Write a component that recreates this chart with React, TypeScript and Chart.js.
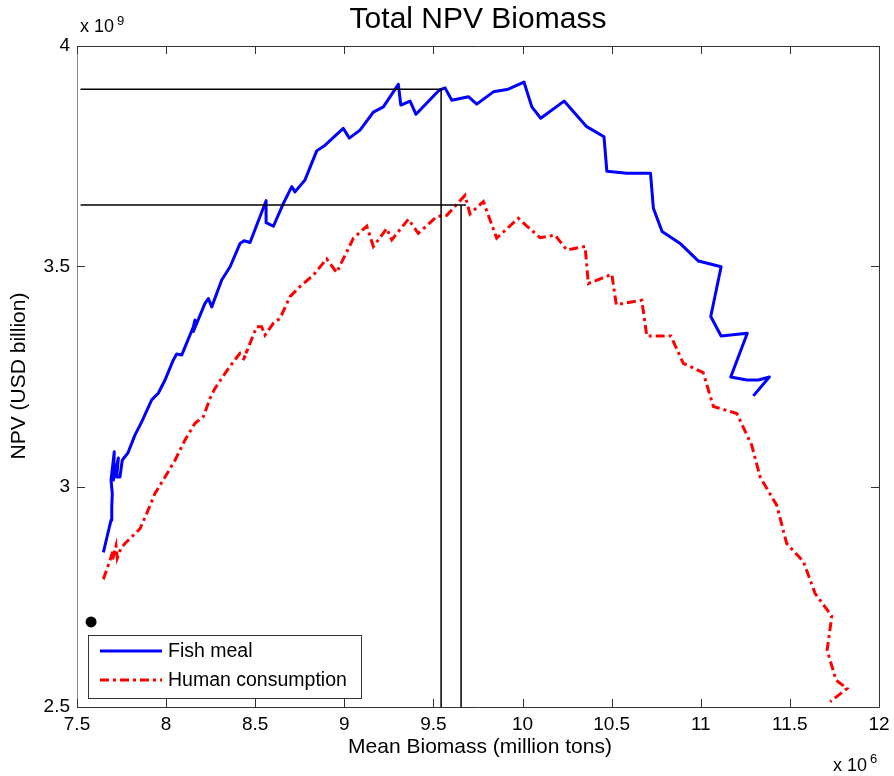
import React, { useEffect, useRef } from 'react';
import { Chart, registerables } from 'chart.js';

Chart.register(...registerables);

// Axis ticks
const xTicks = [7.5, 8, 8.5, 9, 9.5, 10, 10.5, 11, 11.5, 12];
const yTicks = [2.5, 3, 3.5, 4];

// Fish meal (x: million tons, y: USD billion)
const fishX = [7.648, 7.672, 7.691, 7.695, 7.698, 7.691, 7.709, 7.704, 7.732, 7.723, 7.741, 7.754, 7.769, 7.785, 7.825, 7.863, 7.919, 7.956, 7.994, 8.040, 8.059, 8.088, 8.153, 8.162, 8.153, 8.218, 8.237, 8.256, 8.312, 8.359, 8.415, 8.437, 8.471, 8.561, 8.561, 8.602, 8.658, 8.705, 8.723, 8.779, 8.798, 8.845, 8.892, 8.994, 9.028, 9.088, 9.163, 9.219, 9.303, 9.317, 9.369, 9.402, 9.471, 9.533, 9.565, 9.603, 9.696, 9.743, 9.836, 9.920, 10.008, 10.052, 10.102, 10.233, 10.360, 10.457, 10.473, 10.585, 10.718, 10.734, 10.783, 10.884, 10.987, 11.114, 11.056, 11.114, 11.261, 11.168, 11.258, 11.323, 11.385, 11.295];
const fishY = [2.851, 2.892, 2.924, 2.954, 2.985, 3.015, 3.079, 3.015, 3.065, 3.022, 3.022, 3.060, 3.068, 3.076, 3.117, 3.147, 3.197, 3.212, 3.242, 3.287, 3.301, 3.299, 3.363, 3.378, 3.352, 3.416, 3.427, 3.408, 3.469, 3.499, 3.552, 3.558, 3.554, 3.649, 3.599, 3.591, 3.643, 3.681, 3.669, 3.696, 3.715, 3.762, 3.775, 3.813, 3.791, 3.809, 3.850, 3.862, 3.913, 3.866, 3.875, 3.845, 3.874, 3.900, 3.905, 3.877, 3.885, 3.868, 3.896, 3.902, 3.918, 3.862, 3.836, 3.875, 3.817, 3.794, 3.716, 3.711, 3.711, 3.632, 3.579, 3.552, 3.512, 3.499, 3.386, 3.342, 3.348, 3.249, 3.242, 3.242, 3.249, 3.206];

// Human consumption
const humanX = [7.648, 7.685, 7.704, 7.700, 7.719, 7.726, 7.747, 7.769, 7.807, 7.854, 7.891, 7.938, 7.994, 8.050, 8.106, 8.162, 8.209, 8.246, 8.274, 8.349, 8.415, 8.452, 8.433, 8.508, 8.536, 8.555, 8.602, 8.639, 8.695, 8.751, 8.826, 8.901, 8.957, 9.051, 9.126, 9.163, 9.238, 9.266, 9.359, 9.415, 9.519, 9.575, 9.677, 9.705, 9.780, 9.855, 9.976, 10.098, 10.182, 10.248, 10.351, 10.369, 10.501, 10.526, 10.669, 10.697, 10.832, 10.902, 11.013, 11.071, 11.202, 11.286, 11.333, 11.426, 11.482, 11.576, 11.641, 11.735, 11.709, 11.759, 11.821, 11.726];
const humanY = [2.790, 2.833, 2.856, 2.835, 2.866, 2.838, 2.861, 2.871, 2.886, 2.905, 2.939, 2.985, 3.022, 3.060, 3.106, 3.144, 3.159, 3.200, 3.223, 3.268, 3.303, 3.306, 3.287, 3.363, 3.363, 3.344, 3.371, 3.382, 3.431, 3.454, 3.480, 3.517, 3.486, 3.564, 3.591, 3.545, 3.586, 3.560, 3.607, 3.575, 3.613, 3.616, 3.661, 3.619, 3.647, 3.564, 3.609, 3.565, 3.571, 3.537, 3.545, 3.461, 3.482, 3.413, 3.423, 3.342, 3.342, 3.280, 3.259, 3.182, 3.166, 3.094, 3.022, 2.958, 2.871, 2.830, 2.758, 2.706, 2.629, 2.561, 2.542, 2.512];

// Reference (optimum) lines
const refUpperX = [7.52, 9.543, 9.543];
const refUpperY = [3.902, 3.902, 2.5];
const refLowerHX = [7.52, 9.683];
const refLowerHY = [3.639, 3.639];
const refLowerVX = [9.655, 9.655];
const refLowerVY = [3.639, 2.5];

// Marker
const dotX = [7.579];
const dotY = [2.693];

const legendLabels = ['Fish meal', 'Human consumption'];

const FONT = "'Liberation Sans', Arial, sans-serif";
const zip = (xs: number[], ys: number[]) => xs.map((x, i) => ({ x, y: ys[i] }));
const fmt = (v: any) => String(Math.round(Number(v) * 10) / 10);

const decor = {
  id: 'decor',
  afterDraw(chart: any) {
    const { ctx, chartArea: a, scales } = chart;
    const x = scales.x;
    const y = scales.y;
    ctx.save();
    // box
    ctx.lineWidth = 1;
    ctx.strokeStyle = '#333';
    ctx.beginPath();
    ctx.moveTo(a.left, a.top + 0.5);
    ctx.lineTo(a.right + 0.5, a.top + 0.5);
    ctx.lineTo(a.right + 0.5, a.bottom + 0.5);
    ctx.lineTo(a.left, a.bottom + 0.5);
    ctx.stroke();
    ctx.strokeStyle = '#888';
    ctx.beginPath();
    ctx.moveTo(a.left + 0.5, a.top);
    ctx.lineTo(a.left + 0.5, a.bottom + 1);
    ctx.stroke();
    // inward ticks
    ctx.strokeStyle = '#333';
    ctx.beginPath();
    const tl = 8;
    xTicks.forEach((v) => {
      const px = Math.round(x.getPixelForValue(v)) + 0.5;
      ctx.moveTo(px, a.bottom);
      ctx.lineTo(px, a.bottom - tl);
      ctx.moveTo(px, a.top);
      ctx.lineTo(px, a.top + tl);
    });
    yTicks.forEach((v) => {
      const py = Math.round(y.getPixelForValue(v)) + 0.5;
      ctx.moveTo(a.left, py);
      ctx.lineTo(a.left + tl, py);
      ctx.moveTo(a.right, py);
      ctx.lineTo(a.right - tl, py);
    });
    ctx.stroke();

    // legend
    const lx = 88, ly = 635, lw = 273, lh = 63;
    ctx.fillStyle = '#fff';
    ctx.fillRect(lx, ly, lw, lh);
    ctx.strokeStyle = '#333';
    ctx.lineWidth = 1;
    ctx.strokeRect(lx + 0.5, ly + 0.5, lw, lh);
    ctx.lineWidth = 3;
    ctx.strokeStyle = '#0000ff';
    ctx.beginPath();
    ctx.moveTo(100, 651);
    ctx.lineTo(162, 651);
    ctx.stroke();
    ctx.strokeStyle = '#ff0000';
    ctx.setLineDash([9, 4, 3, 4]);
    ctx.beginPath();
    ctx.moveTo(100, 680);
    ctx.lineTo(162, 680);
    ctx.stroke();
    ctx.setLineDash([]);
    ctx.fillStyle = '#000';
    ctx.font = `19.5px ${FONT}`;
    ctx.textBaseline = 'middle';
    ctx.textAlign = 'left';
    ctx.fillText(legendLabels[0], 168, 652);
    ctx.fillText(legendLabels[1], 168, 681);

    // title
    ctx.font = `30px ${FONT}`;
    ctx.textAlign = 'center';
    ctx.fillText('Total NPV Biomass', 478, 20);
    // axis titles
    ctx.font = `21px ${FONT}`;
    ctx.fillText('Mean Biomass (million tons)', 480, 747);
    ctx.save();
    ctx.translate(19, 376);
    ctx.rotate(-Math.PI / 2);
    ctx.fillText('NPV (USD billion)', 0, 0);
    ctx.restore();
    // exponents
    ctx.textAlign = 'left';
    ctx.font = `18px ${FONT}`;
    ctx.fillText('x 10', 80, 27);
    ctx.font = `13px ${FONT}`;
    ctx.fillText('9', 117, 21);
    ctx.font = `18px ${FONT}`;
    ctx.fillText('x 10', 833, 766);
    ctx.font = `13px ${FONT}`;
    ctx.fillText('6', 870, 759);
    ctx.restore();
  },
};

export default function App() {
  const ref = useRef<HTMLCanvasElement | null>(null);
  useEffect(() => {
    if (!ref.current) return;
    const chart = new Chart(ref.current, {
      type: 'scatter',
      data: {
        datasets: [
          { label: 'ref1', data: zip(refUpperX, refUpperY), showLine: true, borderColor: '#000', borderWidth: 1.5, pointRadius: 0 },
          { label: 'ref2', data: zip(refLowerHX, refLowerHY), showLine: true, borderColor: '#000', borderWidth: 1.5, pointRadius: 0 },
          { label: 'ref3', data: zip(refLowerVX, refLowerVY), showLine: true, borderColor: '#000', borderWidth: 1.5, pointRadius: 0 },
          { label: legendLabels[0], data: zip(fishX, fishY), showLine: true, borderColor: '#0000ff', borderWidth: 3, pointRadius: 0, borderJoinStyle: 'round' },
          { label: legendLabels[1], data: zip(humanX, humanY), showLine: true, borderColor: '#ff0000', borderWidth: 3, pointRadius: 0, borderDash: [9, 4, 3, 4] },
          { label: 'dot', data: zip(dotX, dotY), showLine: false, pointRadius: 5.5, backgroundColor: '#000', borderColor: '#000', pointBorderWidth: 0 },
        ],
      },
      options: {
        responsive: false,
        animation: false,
        events: [],
        layout: { padding: { top: 46, right: 15, left: 0, bottom: 0 } },
        plugins: { legend: { display: false }, title: { display: false }, tooltip: { enabled: false } },
        scales: {
          x: {
            type: 'linear',
            min: 7.5,
            max: 12,
            afterBuildTicks: (s: any) => { s.ticks = xTicks.map((v) => ({ value: v })); },
            afterFit: (s: any) => { s.height = 69; s.paddingRight = 0; },
            grid: { display: false, drawTicks: false },
            border: { display: false },
            ticks: { color: '#000', font: { family: FONT, size: 19 }, padding: 6, maxRotation: 0, autoSkip: false, callback: fmt },
          },
          y: {
            type: 'linear',
            min: 2.5,
            max: 4,
            afterBuildTicks: (s: any) => { s.ticks = yTicks.map((v) => ({ value: v })); },
            afterFit: (s: any) => { s.width = 77; },
            grid: { display: false, drawTicks: false },
            border: { display: false },
            ticks: { color: '#000', font: { family: FONT, size: 19 }, padding: 7, autoSkip: false, callback: fmt },
          },
        },
      },
      plugins: [decor],
    });
    return () => chart.destroy();
  }, []);
  return (
    <div style={{ position: 'absolute', left: 0, top: 0, width: 894, height: 776, background: '#fff' }}>
      <canvas ref={ref} width={894} height={776} />
    </div>
  );
}
